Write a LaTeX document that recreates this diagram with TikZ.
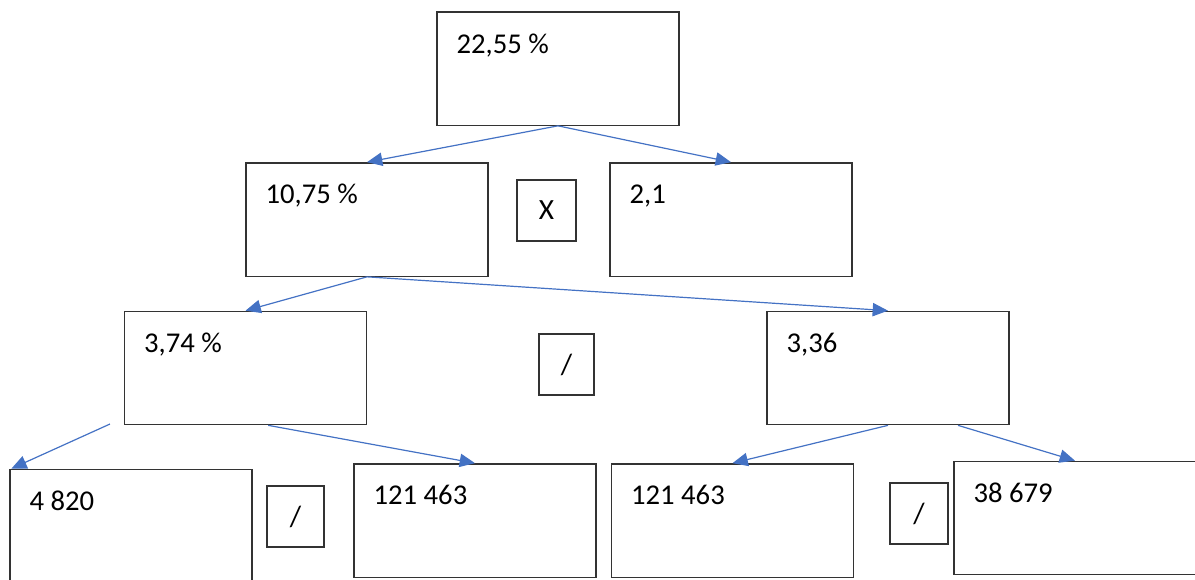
\documentclass[tikz,border=0pt]{standalone}
\usepackage{fontspec}
\setmainfont{Carlito}
\usetikzlibrary{arrows.meta}
\definecolor{arrowblue}{HTML}{4472C4}
\begin{document}
\begin{tikzpicture}[x=0.75pt,y=-0.75pt,
  box/.style={draw=black!80, line width=1pt, minimum width=181.5pt, minimum height=85pt, inner sep=0pt},
  opbox/.style={draw=black!80, line width=1pt, inner sep=0pt, font=\fontsize{22}{26}\selectfont},
  val/.style={anchor=base west, inner sep=0pt, font=\fontsize{21.5}{25}\selectfont},
  arr/.style={draw=arrowblue, line width=0.9pt, -{Triangle[length=11.5pt,width=10pt]}}
]
\clip (0,0) rectangle (1195,579);
% level 0
\node[box] (top) at (558,68.5) {};
\node[val] (ttop) at ([xshift=15pt,yshift=-31.5pt]top.north west) {22,55 \%};
% level 1
\node[box] (b1075) at (367,219.5) {};
\node[val] (t1075) at ([xshift=15pt,yshift=-31pt]b1075.north west) {10,75 \%};
\node[box] (b21) at (731,219.5) {};
\node[val] (t21) at ([xshift=15pt,yshift=-31pt]b21.north west) {2,1};
\node[opbox, minimum width=44.25pt, minimum height=45.75pt] (op1) at (546.5,210.5) {X};
% level 2
\node[box] (b374) at (245.5,368) {};
\node[val] (t374) at ([xshift=15pt,yshift=-31pt]b374.north west) {3,74 \%};
\node[box] (b336) at (888,368) {};
\node[val] (t336) at ([xshift=15pt,yshift=-31pt]b336.north west) {3,36};
\node[opbox, minimum width=41.25pt, minimum height=45.75pt] (op2) at (566.5,364.5) {/};
% level 3
\node[box] (b4820) at (131,526) {};
\node[val] (t4820) at ([xshift=15pt,yshift=-31pt]b4820.north west) {4 820};
\node[opbox, minimum width=42.75pt, minimum height=45.75pt] (op3) at (295.5,516.5) {/};
\node[box] (c121a) at (475,520.5) {};
\node[val] (t121a) at ([xshift=15pt,yshift=-31pt]c121a.north west) {121 463};
\node[box] (c121b) at (732.5,520.5) {};
\node[val] (t121b) at ([xshift=15pt,yshift=-31pt]c121b.north west) {121 463};
\node[opbox, minimum width=43.5pt, minimum height=45.75pt] (op4) at (919,513.5) {/};
\node[box] (b38679) at (1075,518) {};
\node[val] (t38679) at ([xshift=15pt,yshift=-31pt]b38679.north west) {38 679};
% connectors
\coordinate (s374) at (110,424);
\draw[arr] (top.south) -- (b1075.north);
\draw[arr] (top.south) -- (b21.north);
\draw[arr] (b1075.south) -- (b374.north);
\draw[arr] (b1075.south) -- (b336.north);
\draw[arr] (s374) -- ([xshift=1.5pt]b4820.north west);
\draw[arr] ([xshift=17pt]b374.south) -- (c121a.north);
\draw[arr] (b336.south) -- (c121b.north);
\draw[arr] ([xshift=52.5pt]b336.south) -- (b38679.north);
\end{tikzpicture}
\end{document}
